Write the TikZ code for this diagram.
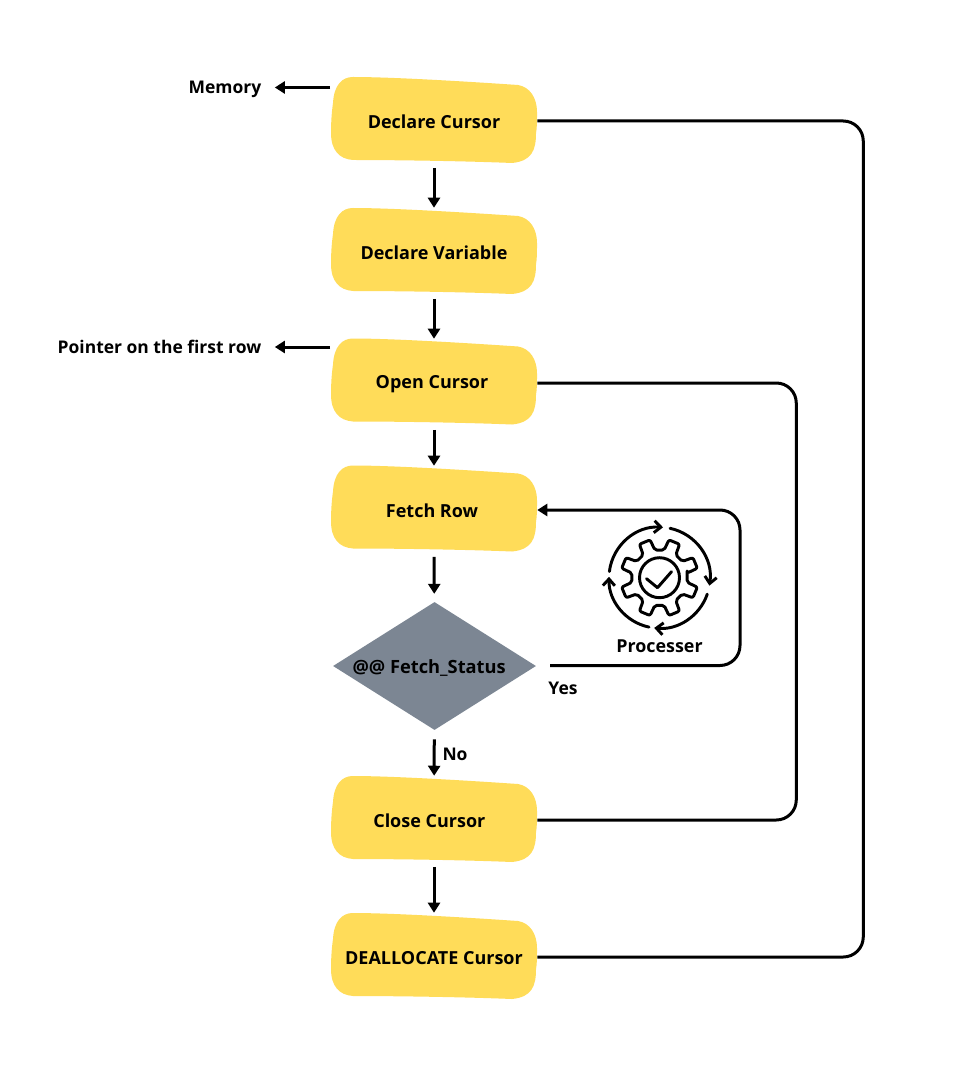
\documentclass[tikz,border=0pt]{standalone}
\usepackage{fontspec}
\setmainfont{Open Sans}
\usetikzlibrary{arrows.meta,shapes.geometric}
\definecolor{blobyellow}{HTML}{FFDC59}
\definecolor{diamondgrey}{HTML}{7C8693}
\newcommand{\blobat}[2]{%
  \fill[blobyellow,shift={(#1,#2)}]
    (-81,-43) .. controls (-40,-43) and (40,-38) .. (84,-35)
    .. controls (96,-33) and (103,-22) .. (103,-8)
    .. controls (103,2) and (103,8) .. (102,13)
    .. controls (102,30) and (98,41) .. (78,43)
    .. controls (30,41) and (-40,40) .. (-81,40)
    .. controls (-95,39) and (-103,30) .. (-103,13)
    .. controls (-103,0) and (-102,-10) .. (-101,-17)
    .. controls (-100,-35) and (-92,-43) .. (-81,-43) -- cycle;}
\newcommand{\lowered}[2][0.8pt]{\raisebox{-#1}[\height][\depth]{#2}}
\tikzset{
  x=0.75pt,y=-0.75pt,
  boxnode/.style={minimum width=154.5pt,minimum height=62pt,inner sep=0pt,font=\fontsize{13.5pt}{15pt}\selectfont\bfseries,text=black},
  lab/.style={inner sep=0pt,font=\fontsize{13.1pt}{15pt}\selectfont\bfseries,text=black},
  conn/.style={line width=2.25pt,draw=black,rounded corners=15pt},
  arr/.style={line width=2.25pt,draw=black,-{Triangle[length=7.5pt,width=9pt]}},
  iconline/.style={line width=2.2pt,draw=black,line cap=round,line join=round},
  iconarrow/.style={iconline,-{Straight Barb[length=5pt,width=9pt,line width=2.2pt]}},
}
\begin{document}
\begin{tikzpicture}
\useasboundingbox[fill=white] (0,0) rectangle (959,1080);
\blobat{434}{120}
\blobat{434}{251}
\blobat{434}{381.5}
\blobat{434}{508.5}
\blobat{434}{819}
\blobat{434}{956}
\node[boxnode] (declcur) at (434,121) {\lowered{Declare Cursor}};
\node[boxnode] (declvar) at (434,252) {\lowered{Declare Variable}};
\node[boxnode] (opencur) at (434,383) {\lowered{Open Cursor}\kern3pt};
\node[boxnode] (fetch) at (434,510) {\lowered{Fetch Row}\kern3pt};
\node[boxnode] (closecur) at (434,820) {\lowered{Close Cursor}\kern7pt};
\node[boxnode] (dealloc) at (434,957) {\lowered{DEALLOCATE Cursor}};
\node[diamond,fill=diamondgrey,lab,font=\fontsize{13.7pt}{15pt}\selectfont\bfseries,minimum width=152.25pt,minimum height=96pt,shape aspect=1.586] (status) at (434.5,666) {\lowered[1.4pt]{@@ Fetch\_Status}\kern8pt};
\node[lab,anchor=east] (memory) at (261.5,89) {Memory};
\node[lab,anchor=east] (pointer) at (261.5,347) {Pointer on the first row};
\node[lab] (yes) at (563,688) {Yes};
\node[lab] (no) at (455,754) {No};
\node[lab,font=\fontsize{13.4pt}{15pt}\selectfont\bfseries] (proc) at (659.5,646) {Processer};
\coordinate (memstart) at (330,87.5);
\coordinate (ptrstart) at (330,347);
\draw[arr,shorten >=10pt] (memstart) -- (memory.east |- memstart);
\draw[arr,shorten >=10pt] (ptrstart) -- (pointer.east |- ptrstart);
\draw[arr,shorten <=4pt,shorten >=2pt] (declcur) -- (declvar);
\draw[arr,shorten <=4pt,shorten >=2pt] (declvar) -- (opencur);
\draw[arr,shorten <=4pt,shorten >=2pt] (opencur) -- (fetch);
\draw[arr,shorten <=4pt,shorten >=6pt] (fetch) -- (status);
\draw[arr,shorten <=7pt,shorten >=2pt] (status) -- (closecur);
\draw[arr,shorten <=4pt,shorten >=2pt] (closecur) -- (dealloc);
\draw[conn] (declcur.east) -- ++(326,0) |- (dealloc.east);
\draw[conn] (opencur.east) -- ++(259,0) |- (closecur.east);
\coordinate (yesstart) at (550,665.5);
\draw[conn,-{Triangle[length=7.5pt,width=9pt]}] (yesstart) -- (740,665.5) |- (fetch.east);
\begin{scope}[shift={(659.5,577.7)},x=0.75pt,y=0.75pt]
  \draw[iconline] (0,0) circle[radius=20];
  \draw[iconline] (-13,-1) -- (-2,-10) -- (12,6);
  \draw[iconline,rounded corners=1.5pt]
    (9.5:28)
    \foreach \k in {0,45,...,315} {
      -- ({\k+9.5}:28) -- ({\k+14}:39) -- ({\k+31}:39) -- ({\k+35.5}:28)
    } -- cycle;
  \draw[iconarrow] (173:50.5) arc[start angle=173,end angle=86,radius=50.5];
  \draw[iconarrow] (78:50.5) arc[start angle=78,end angle=-9,radius=50.5];
  \draw[iconarrow] (-19:50.5) arc[start angle=-19,end angle=-96,radius=50.5];
  \draw[iconarrow] (-102:50.5) arc[start angle=-102,end angle=-181,radius=50.5];
\end{scope}
\end{tikzpicture}
\end{document}
